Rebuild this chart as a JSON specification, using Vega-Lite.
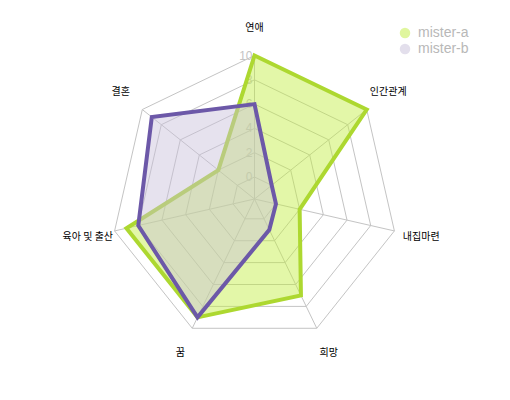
{
  "$schema": "https://vega.github.io/schema/vega-lite/v6.json",
  "width": 510,
  "height": 400,
  "autosize": {"type": "none"},
  "padding": 0,
  "background": "white",
  "config": {"view": {"stroke": null}},
  "datasets": {
    "scores": [
      {"series": "mister-a", "axis": "연애", "idx": 0, "value": 10},
      {"series": "mister-a", "axis": "인간관계", "idx": 1, "value": 10},
      {"series": "mister-a", "axis": "내집마련", "idx": 2, "value": 2},
      {"series": "mister-a", "axis": "희망", "idx": 3, "value": 7},
      {"series": "mister-a", "axis": "꿈", "idx": 4, "value": 9},
      {"series": "mister-a", "axis": "육아 및 출산", "idx": 5, "value": 9},
      {"series": "mister-a", "axis": "결혼", "idx": 6, "value": 2},
      {"series": "mister-b", "axis": "연애", "idx": 0, "value": 6},
      {"series": "mister-b", "axis": "인간관계", "idx": 1, "value": 0},
      {"series": "mister-b", "axis": "내집마련", "idx": 2, "value": 0},
      {"series": "mister-b", "axis": "희망", "idx": 3, "value": 1},
      {"series": "mister-b", "axis": "꿈", "idx": 4, "value": 9},
      {"series": "mister-b", "axis": "육아 및 출산", "idx": 5, "value": 8},
      {"series": "mister-b", "axis": "결혼", "idx": 6, "value": 9}
    ],
    "rings": [
      {"level": 0, "k": [0, 1, 2, 3, 4, 5, 6]},
      {"level": 2, "k": [0, 1, 2, 3, 4, 5, 6]},
      {"level": 4, "k": [0, 1, 2, 3, 4, 5, 6]},
      {"level": 6, "k": [0, 1, 2, 3, 4, 5, 6]},
      {"level": 8, "k": [0, 1, 2, 3, 4, 5, 6]},
      {"level": 10, "k": [0, 1, 2, 3, 4, 5, 6]}
    ],
    "axes": [
      {"axis": "연애", "idx": 0},
      {"axis": "인간관계", "idx": 1},
      {"axis": "내집마련", "idx": 2},
      {"axis": "희망", "idx": 3},
      {"axis": "꿈", "idx": 4},
      {"axis": "육아 및 출산", "idx": 5},
      {"axis": "결혼", "idx": 6}
    ],
    "levels": [
      {"level": 0}, {"level": 2}, {"level": 4}, {"level": 6}, {"level": 8}, {"level": 10}
    ]
  },
  "encoding": {
    "x": {"field": "px", "type": "quantitative", "scale": {"domain": [-254.5, 255.5], "nice": false, "zero": false}, "axis": null},
    "y": {"field": "py", "type": "quantitative", "scale": {"domain": [-201, 199], "nice": false, "zero": false}, "axis": null}
  },
  "layer": [
    {
      "data": {"name": "rings"},
      "transform": [
        {"flatten": ["k"]},
        {"calculate": "datum.k * 2 * PI / 7", "as": "ang"},
        {"calculate": "22 + 12.15 * datum.level", "as": "r"},
        {"calculate": "datum.r * sin(datum.ang)", "as": "px"},
        {"calculate": "datum.r * cos(datum.ang)", "as": "py"}
      ],
      "mark": {"type": "line", "interpolate": "linear-closed", "stroke": "#c4c4c4", "strokeWidth": 1},
      "encoding": {
        "detail": {"field": "level", "type": "nominal"},
        "order": {"field": "k", "type": "quantitative"}
      }
    },
    {
      "data": {"name": "axes"},
      "transform": [
        {"calculate": "datum.idx * 2 * PI / 7", "as": "ang"},
        {"calculate": "143.5 * sin(datum.ang)", "as": "px"},
        {"calculate": "143.5 * cos(datum.ang)", "as": "py"}
      ],
      "mark": {"type": "rule", "stroke": "#c4c4c4", "strokeWidth": 1},
      "encoding": {
        "x2": {"datum": 0},
        "y2": {"datum": 0}
      }
    },
    {
      "data": {"name": "levels"},
      "transform": [
        {"calculate": "0", "as": "px"},
        {"calculate": "22 + 12.15 * datum.level", "as": "py"}
      ],
      "mark": {"type": "text", "align": "right", "baseline": "middle", "dx": -2, "fontSize": 12, "font": "Liberation Sans", "color": "#c4c4c4"},
      "encoding": {
        "text": {"field": "level", "type": "quantitative"}
      }
    },
    {
      "data": {"name": "scores"},
      "transform": [
        {"calculate": "datum.idx * 2 * PI / 7", "as": "ang"},
        {"calculate": "22 + 12.15 * datum.value", "as": "r"},
        {"calculate": "datum.r * sin(datum.ang)", "as": "px"},
        {"calculate": "datum.r * cos(datum.ang)", "as": "py"}
      ],
      "mark": {"type": "line", "interpolate": "linear-closed", "strokeWidth": 4, "fillOpacity": 0.45, "strokeJoin": "miter"},
      "encoding": {
        "stroke": {"field": "series", "type": "nominal", "scale": {"domain": ["mister-a", "mister-b"], "range": ["#add830", "#6c58a8"]}, "legend": null},
        "fill": {
          "field": "series", "type": "nominal",
          "scale": {"domain": ["mister-a", "mister-b"], "range": ["#c1ed3e", "#c7bfda"]},
          "legend": {
            "title": null, "orient": "none", "legendX": 398, "legendY": 26,
            "symbolType": "circle", "symbolSize": 110, "symbolOpacity": 0.5, "symbolStrokeWidth": 0,
            "labelFontSize": 14, "labelFont": "Liberation Sans", "labelColor": "#b8b8b8",
            "labelOffset": 6, "rowPadding": 2
          }
        },
        "order": {"field": "idx", "type": "quantitative"}
      }
    },
    {
      "data": {"name": "axes"},
      "transform": [
        {"calculate": "datum.idx * 2 * PI / 7", "as": "ang"},
        {"calculate": "171 * sin(datum.ang)", "as": "px"},
        {"calculate": "171 * cos(datum.ang)", "as": "py"}
      ],
      "mark": {"type": "text", "align": "center", "baseline": "middle", "fontSize": 10, "font": "Noto Sans CJK KR", "color": "#000000"},
      "encoding": {
        "text": {"field": "axis", "type": "nominal"}
      }
    }
  ]
}
